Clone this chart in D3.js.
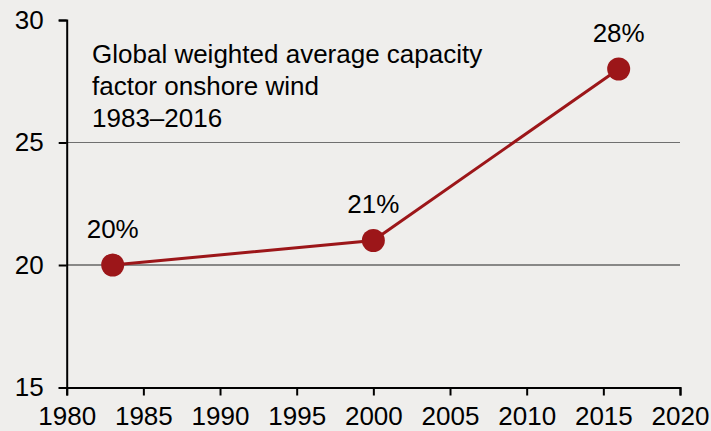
<!DOCTYPE html>
<html>
<head>
<meta charset="utf-8">
<script src="https://cdn.jsdelivr.net/npm/d3@7"></script>
<style>
  html, body { margin: 0; padding: 0; background: #efeeec; }
  svg { display: block; }
  text { font-family: "Liberation Sans", Arial, sans-serif; fill: #000; }
</style>
</head>
<body>
<svg id="chart" width="711" height="431"></svg>
<script>
// Capacity factor of onshore wind, global weighted average (%)
const years = [1983, 2000, 2016];
const capacityFactor = [20, 21, 28];
const pointLabels = ["20%", "21%", "28%"];
const xTicks = [1980, 1985, 1990, 1995, 2000, 2005, 2010, 2015, 2020];
const yTicks = [15, 20, 25, 30];
const gridValues = [20, 25];
const titleLines = ["Global weighted average capacity", "factor onshore wind", "1983\u20132016"];

const svg = d3.select("#chart");
const margin = { left: 66.7, right: 31, top: 20, bottom: 43.5 };
const W = 711, H = 431;
const FONT = 26;

const x = d3.scaleLinear().domain([1980, 2020]).range([margin.left, W - margin.right]);
const y = d3.scaleLinear().domain([15, 30]).range([H - margin.bottom, margin.top]);

// horizontal reference lines
svg.append("g").selectAll("line").data(gridValues).join("line")
  .attr("x1", x(1980)).attr("x2", x(2020))
  .attr("y1", d => y(d)).attr("y2", d => y(d))
  .attr("stroke", d => d === 25 ? "#6f6f6f" : "#222")
  .attr("stroke-width", 1.2);

// y axis
const yAxis = svg.append("g")
  .attr("transform", `translate(${x(1980)},0)`)
  .call(d3.axisLeft(y).tickValues(yTicks).tickSize(8).tickPadding(15).tickFormat(d3.format("d")));
yAxis.attr("font-size", FONT).attr("font-family", "'Liberation Sans', Arial, sans-serif");
yAxis.select(".domain").attr("stroke", "#000").attr("stroke-width", 2);
yAxis.selectAll(".tick line").attr("stroke", "#000").attr("stroke-width", 2);

// x axis
const xAxis = svg.append("g")
  .attr("transform", `translate(0,${y(15)})`)
  .call(d3.axisBottom(x).tickValues(xTicks).tickSize(8).tickPadding(11).tickFormat(d3.format("d")));
xAxis.attr("font-size", FONT).attr("font-family", "'Liberation Sans', Arial, sans-serif");
xAxis.select(".domain").attr("stroke", "#000").attr("stroke-width", 2);
xAxis.selectAll(".tick line").attr("stroke", "#000").attr("stroke-width", 2);

const data = years.map((yr, i) => ({ year: yr, value: capacityFactor[i], label: pointLabels[i] }));

// series line
svg.append("path")
  .datum(data)
  .attr("fill", "none")
  .attr("stroke", "#9c1619")
  .attr("stroke-width", 3)
  .attr("d", d3.line().x(d => x(d.year)).y(d => y(d.value)));

// markers
svg.append("g").selectAll("circle").data(data).join("circle")
  .attr("cx", d => x(d.year)).attr("cy", d => y(d.value))
  .attr("r", 11.5)
  .attr("fill", "#9c1619");

// value labels
svg.append("g").selectAll("text").data(data).join("text")
  .attr("x", d => x(d.year)).attr("y", d => y(d.value) - 27.5)
  .attr("text-anchor", "middle")
  .attr("font-size", FONT)
  .text(d => d.label);

// chart description
svg.append("g").selectAll("text").data(titleLines).join("text")
  .attr("x", 92).attr("y", (d, i) => 63 + i * 32)
  .attr("font-size", FONT)
  .text(d => d);
</script>
</body>
</html>
